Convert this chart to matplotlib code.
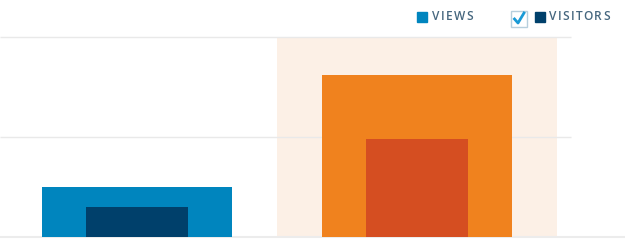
import matplotlib
matplotlib.use("Agg")
import matplotlib.pyplot as plt
from matplotlib.patches import Rectangle

# data
periods = ["prev", "current"]
views = [50, 162]
visitors = [30, 98]
grid_values = [100, 200]
legend_labels = ["VIEWS", "VISITORS"]

views_colors = ["#0085be", "#f0821e"]
visitors_colors = ["#00406b", "#d54e21"]

W, H = 625, 241
fig = plt.figure(figsize=(W / 100, H / 100), dpi=100)
ax = fig.add_axes([0, 0, 1, 1])

x = list(range(len(periods)))
left_px, slot_px = 137, 280
ax.set_xlim(-left_px / slot_px, (W - left_px) / slot_px)
ax.set_ylim(-(H - 237.3), 237.3)

# highlighted period
ax.axvspan(0.5, 1.5, ymin=(H - 237.3) / H, ymax=(H - 37.3) / H,
           color="#fcf0e6", zorder=0, lw=0)

# grid
for g in grid_values:
    ax.hlines(g, -left_px / slot_px, (571 - left_px) / slot_px,
              color="#e9e9e9", lw=1, zorder=1)
ax.axhline(0, color="#ececec", lw=1.5, zorder=1)

ax.bar(x, views, width=190 / slot_px, color=views_colors, zorder=2)
ax.bar(x, visitors, width=102 / slot_px, color=visitors_colors, zorder=3)
ax.axis("off")

renderer = fig.canvas.get_renderer()


def spaced_text(x0, y0, s, tracking=1.3, **kw):
    # draw letters one by one so we can add letter spacing
    xp = x0
    for ch in s:
        t = fig.text(xp / W, 1 - y0 / H, ch, va="center", ha="left", **kw)
        xp += t.get_window_extent(renderer).width + tracking


# legend
txt_kw = dict(fontsize=8.6, color="#46677f", family="Open Sans",
              fontweight="semibold")
fig.patches.append(Rectangle((417 / W, 1 - 22 / H), 10 / W, 10 / H,
                             transform=fig.transFigure, color="#0085be"))
spaced_text(432, 17, legend_labels[0], **txt_kw)
fig.patches.append(Rectangle((511 / W, 1 - 27 / H), 16 / W, 16 / H,
                             transform=fig.transFigure, facecolor="white",
                             edgecolor="#b7cfdd", lw=1))
fig.lines.append(plt.Line2D([514.5 / W, 518 / W, 524 / W],
                            [1 - 19 / H, 1 - 23 / H, 1 - 13 / H],
                            transform=fig.transFigure, color="#1a9ad6", lw=2))
fig.patches.append(Rectangle((535 / W, 1 - 22 / H), 10 / W, 10 / H,
                             transform=fig.transFigure, color="#00406b"))
spaced_text(549, 17, legend_labels[1], **txt_kw)

fig.savefig("out.png", dpi=100)
